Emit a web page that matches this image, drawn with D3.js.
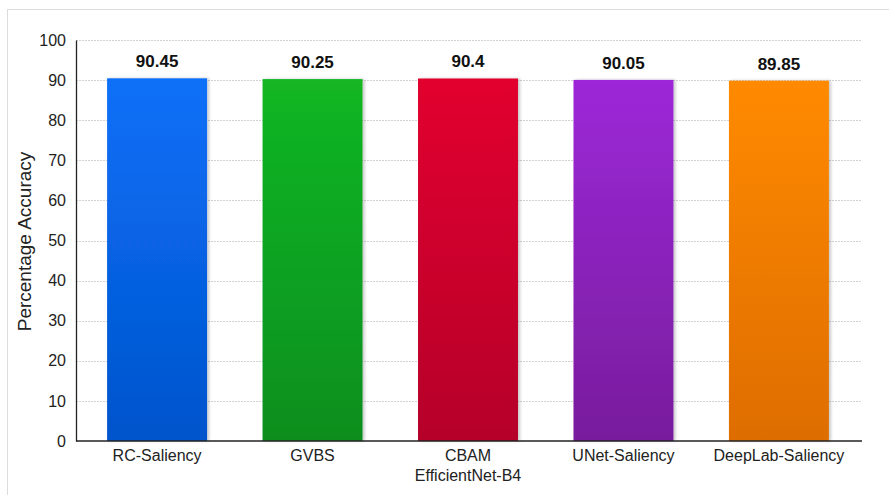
<!DOCTYPE html>
<html>
<head>
<meta charset="utf-8">
<script src="https://cdn.jsdelivr.net/npm/d3@7"></script>
<style>
  html, body { margin: 0; padding: 0; background: #ffffff; }
  svg { display: block; font-family: "Liberation Sans", Arial, sans-serif; }
</style>
</head>
<body>
<svg id="chart" width="889" height="495"></svg>
<script>
// Model names (multi-line labels split on "\n")
const models = ["RC-Saliency", "GVBS", "CBAM\nEfficientNet-B4", "UNet-Saliency", "DeepLab-Saliency"];
// Accuracy per model (%)
const accuracy = [90.45, 90.25, 90.4, 90.05, 89.85];
// Bar colours: top and bottom of the vertical gradient
const colorTop = ["#0a70f8", "#12b722", "#e2002f", "#9c28d8", "#ff8a00"];
const colorBottom = ["#0354cc", "#0a8e1f", "#b5002a", "#781d9c", "#de6d00"];
// Y-axis ticks
const yTicks = [0, 10, 20, 30, 40, 50, 60, 70, 80, 90, 100];

const svg = d3.select("#chart");
const W = 889, H = 495;
const margin = { left: 76, right: 27, top: 40, bottom: 54 };

const data = models.map((m, i) => ({ model: m, value: accuracy[i], i }));

const defs = svg.append("defs");
data.forEach(d => {
  const g = defs.append("linearGradient")
    .attr("id", "grad" + d.i)
    .attr("x1", 0).attr("y1", 0).attr("x2", 0).attr("y2", 1);
  g.append("stop").attr("offset", "0%").attr("stop-color", colorTop[d.i]);
  g.append("stop").attr("offset", "100%").attr("stop-color", colorBottom[d.i]);
});
const shadow = defs.append("filter").attr("id", "shadow")
  .attr("x", "-10%").attr("y", "-5%").attr("width", "130%").attr("height", "110%");
shadow.append("feDropShadow").attr("dx", 2).attr("dy", 0).attr("stdDeviation", 1.5)
  .attr("flood-color", "#000").attr("flood-opacity", 0.22);

// Panel frame
svg.append("rect")
  .attr("x", 7.5).attr("y", 9.5).attr("width", W).attr("height", H)
  .attr("fill", "#ffffff").attr("stroke", "#dcdcdc").attr("stroke-width", 1);

const x = d3.scaleBand()
  .domain(models)
  .range([margin.left, 860])
  .paddingInner(0.357)
  .paddingOuter(0.2);

const y = d3.scaleLinear()
  .domain([0, 100])
  .range([H - margin.bottom, margin.top]);

// Horizontal gridlines
svg.append("g").selectAll("line")
  .data(yTicks.filter(t => t > 0))
  .join("line")
  .attr("x1", margin.left).attr("x2", 862)
  .attr("y1", d => Math.round(y(d)) + 0.5).attr("y2", d => Math.round(y(d)) + 0.5)
  .attr("stroke", "#d2d2d2").attr("stroke-width", 1)
  .attr("stroke-dasharray", "2,1");

// Bars
svg.append("g").selectAll("rect")
  .data(data)
  .join("rect")
  .attr("x", d => x(d.model))
  .attr("y", d => y(d.value))
  .attr("width", x.bandwidth())
  .attr("height", d => y(0) - y(d.value))
  .attr("fill", d => `url(#grad${d.i})`)
  .attr("filter", "url(#shadow)");

// Value labels
svg.append("g").selectAll("text")
  .data(data)
  .join("text")
  .attr("x", d => x(d.model) + x.bandwidth() / 2)
  .attr("y", d => y(d.value) - 11)
  .attr("text-anchor", "middle")
  .attr("font-size", 17)
  .attr("font-weight", "bold")
  .attr("fill", "#111")
  .text(d => d.value);

// Y axis
const yAxis = d3.axisLeft(y).tickValues(yTicks).tickSize(0).tickPadding(10);
const gy = svg.append("g")
  .attr("transform", `translate(${margin.left},0)`)
  .call(yAxis);
gy.select(".domain").attr("stroke", "#222").attr("stroke-width", 1.3);
gy.selectAll(".tick text").attr("font-size", 16).attr("fill", "#222")
  .attr("font-family", "Liberation Sans, Arial, sans-serif");

// X axis
const xAxis = d3.axisBottom(x).tickSize(0).tickPadding(8).tickFormat("");
const gx = svg.append("g")
  .attr("transform", `translate(0,${y(0)})`)
  .call(xAxis);
gx.select(".domain").attr("stroke", "#222").attr("stroke-width", 1.3)
  .attr("d", `M${margin.left},0H862`);
gx.selectAll(".tick").each(function(d) {
  const lines = d.split("\n");
  const t = d3.select(this).append("text")
    .attr("text-anchor", "middle")
    .attr("font-size", 16)
    .attr("fill", "#222")
    .attr("font-family", "Liberation Sans, Arial, sans-serif");
  lines.forEach((ln, k) => {
    t.append("tspan").attr("x", 0).attr("y", 20 + k * 20).text(ln);
  });
});

// Y-axis title
svg.append("text")
  .attr("transform", `translate(31,${(y(0) + y(100)) / 2 + 1}) rotate(-90)`)
  .attr("text-anchor", "middle")
  .attr("font-size", 19)
  .attr("fill", "#222")
  .text("Percentage Accuracy");
</script>
</body>
</html>
